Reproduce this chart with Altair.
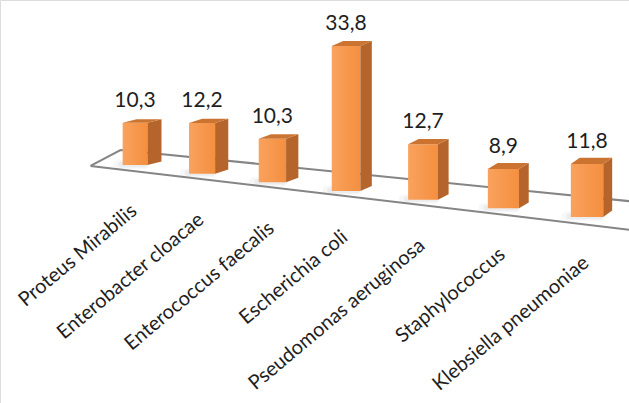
import altair as alt
import pandas as pd

# Share of isolates per organism (%)
organisms = [
    "Proteus Mirabilis",
    "Enterobacter cloacae",
    "Enterococcus faecalis",
    "Escherichia coli",
    "Pseudomonas aeruginosa",
    "Staphylococcus",
    "Klebsiella pneumoniae",
]
percent = [10.3, 12.2, 10.3, 33.8, 12.7, 8.9, 11.8]
value_labels = ["10,3", "12,2", "10,3", "33,8", "12,7", "8,9", "11,8"]

# --- simple perspective projection of the 3D column scene -----------------
# u: category slot, h: height in %, w: depth (0 = front face, 1 = back face)
def proj_x(u, w=0.0):
    return u * (0.8676 + 0.02214 * u) + w * (0.1859 - 0.01129 * u)


def proj_y(u, h=0.0, w=0.0):
    return -2.021 * u + h * (1 + 0.015 * (u - 3)) + w * (0.839 + 0.1096 * u)


HALF = 0.19          # half width of a column (in slots)
LABEL_DROP = 11.2    # category label anchor below the column foot (y units)
LABEL_SHIFT = 0.04   # and slightly to the right (x units)

front_rows, side_rows, top_rows, shadow_rows, text_rows = [], [], [], [], []
for i, (name, v, lab) in enumerate(zip(organisms, percent, value_labels)):
    xl, xr = proj_x(i - HALF), proj_x(i + HALF)
    xc = proj_x(i)
    yb, yt = proj_y(i), proj_y(i, v)
    ddx = proj_x(i, 1) - proj_x(i)
    ddy = proj_y(i, 0, 1) - proj_y(i)
    front_rows.append(dict(bar=i, x=xl, x2=xr, y=yb, y2=yt))
    side_rows += [
        dict(bar=i, x=xr, y=yb, y2=yt),
        dict(bar=i, x=xr + ddx, y=yb + ddy, y2=yt + ddy),
    ]
    top_rows += [
        dict(bar=i, y=yt, x=xl, x2=xr),
        dict(bar=i, y=yt + ddy, x=xl + ddx, x2=xr + ddx),
    ]
    # soft contact shadow on the floor, a little to the front-left
    shadow_rows += [
        dict(bar=i, x=xl - 0.12, x2=xr + 0.02, y=yb - 0.9, y2=yb + 1.2, o=0.05),
        dict(bar=i, x=xl - 0.06, x2=xr, y=yb - 0.5, y2=yb + 0.8, o=0.07),
    ]
    text_rows.append(dict(
        bar=i, organism=name, label=lab, x=xc, ytop=yt,
        xlab=xc + LABEL_SHIFT, ylab=yb - LABEL_DROP,
    ))

front = pd.DataFrame(front_rows)
side = pd.DataFrame(side_rows)
top = pd.DataFrame(top_rows)
shadow = pd.DataFrame(shadow_rows)
texts = pd.DataFrame(text_rows)

# floor plate outline (closed polygon)
floor_corners = [(-0.4, -1.3), (-0.8, 2.5), (7.6, 2.5), (7.6, -1.3), (-0.4, -1.3)]
floor = pd.DataFrame(
    [dict(k=k, x=proj_x(u, w), y=proj_y(u, 0, w)) for k, (u, w) in enumerate(floor_corners)]
)

xs = alt.Scale(domain=[-1.7928, 6.5604], nice=False, zero=False)
ys = alt.Scale(domain=[-55.48, 38.46], nice=False, zero=False)
X = lambda f="x": alt.X(f"{f}:Q", scale=xs, axis=None)
Y = lambda f="y": alt.Y(f"{f}:Q", scale=ys, axis=None)

floor_layer = alt.Chart(floor).mark_line(
    color="#858585", strokeWidth=2, clip=True, strokeJoin="miter"
).encode(x=X(), y=Y(), order="k:Q")

shadow_layer = alt.Chart(shadow).mark_rect(color="#5a6470", cornerRadius=4).encode(
    x=X(), x2="x2:Q", y=Y(), y2="y2:Q", opacity=alt.Opacity("o:Q", scale=None)
)

front_layer = alt.Chart(front).mark_rect(
    color={
        "gradient": "linear",
        "x1": 0, "y1": 0, "x2": 1, "y2": 0,
        "stops": [
            {"offset": 0, "color": "#F9A25E"},
            {"offset": 1, "color": "#F48F3F"},
        ],
    }
).encode(x=X(), x2="x2:Q", y=Y(), y2="y2:Q")

side_layer = alt.Chart(side).mark_area(orient="vertical", color="#B5652B").encode(
    x=X(), y=Y(), y2="y2:Q", detail="bar:N"
)

top_layer = alt.Chart(top).mark_area(orient="horizontal", color="#CB7432").encode(
    y=Y(), x=X(), x2="x2:Q", detail="bar:N"
)

value_layer = alt.Chart(texts).mark_text(
    font="Lato", fontSize=21, color="#1e1e1e", baseline="alphabetic", align="center", dy=-16
).encode(x=X(), y=Y("ytop"), text="label:N")

name_layer = alt.Chart(texts).mark_text(
    font="Lato", fontSize=20, color="#1e1e1e", baseline="alphabetic", align="right",
    angle=320,
).encode(x=X("xlab"), y=Y("ylab"), text="organism:N")

chart = (
    alt.layer(floor_layer, shadow_layer, front_layer, side_layer, top_layer,
              value_layer, name_layer)
    .properties(width=629, height=403, autosize=alt.AutoSizeParams(type="none"), padding=0)
    .configure_view(stroke="transparent", strokeWidth=0)
    .configure(background="white")
)

chart.save("out.html", embed_options={"renderer": "svg", "actions": False})
